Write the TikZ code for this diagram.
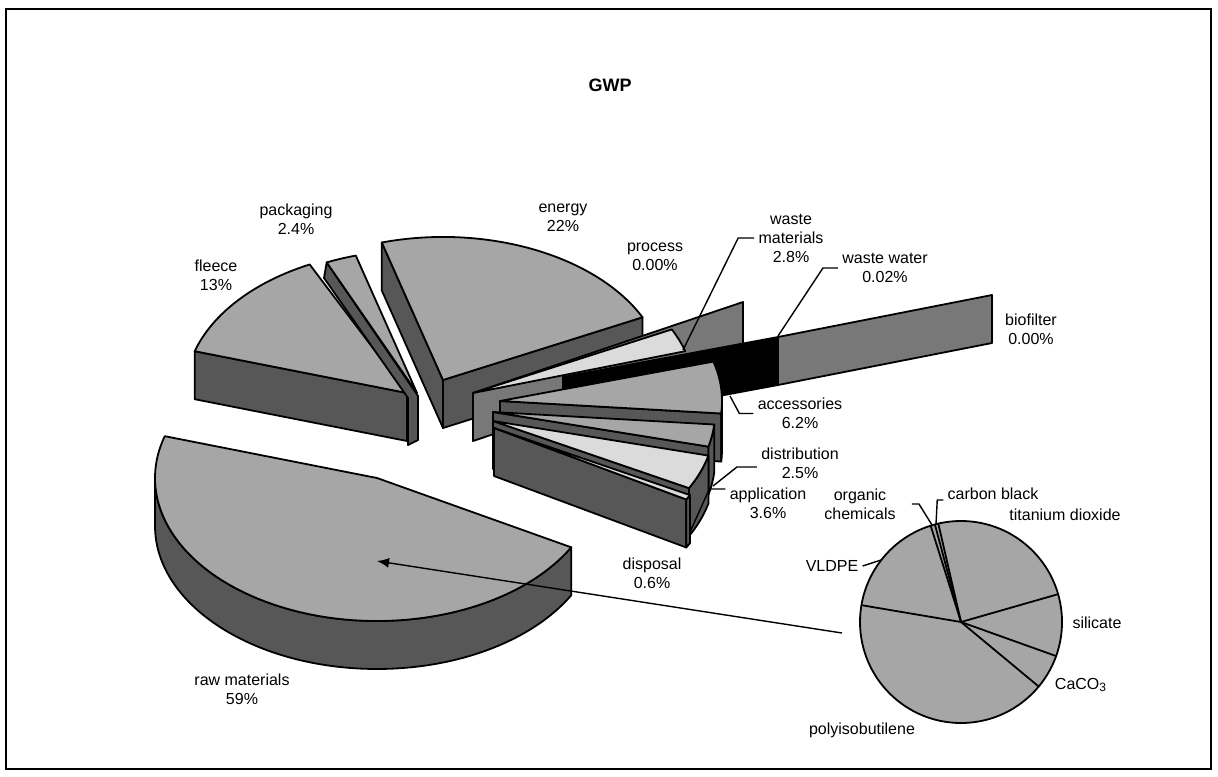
\documentclass[tikz,border=0pt]{standalone}
\usepackage{fontspec}
\setmainfont{Liberation Sans}
\usetikzlibrary{arrows.meta}
\definecolor{topgray}{gray}{0.65}
\definecolor{sidegray}{gray}{0.34}
\definecolor{palegray}{gray}{0.86}
\definecolor{planegray}{gray}{0.47}
\tikzset{
  pie/.style={x radius=222,y radius=143},
  topface/.style={fill=topgray,draw=black,line width=0.9pt,line join=round},
  sideface/.style={fill=sidegray,draw=black,line width=0.9pt,line join=round},
  paleface/.style={fill=palegray,draw=black,line width=0.9pt,line join=round},
  planeface/.style={fill=planegray,draw=black,line width=0.9pt,line join=round},
  lbl/.style={align=center,inner sep=2pt,font=\fontsize{8}{9.5}\selectfont},
  leader/.style={draw=black,line width=0.7pt},
}
\begin{document}
\begin{tikzpicture}[x=0.5pt,y=-0.5pt]
      \useasboundingbox (0,0) rectangle (1218,776);
      \draw[line width=1pt] (6,9) rectangle (1211,769);
      \node[lbl,font=\fontsize{9}{11}\selectfont\bfseries] (title) at (610,85) {GWP};
      % back slices
      \filldraw[sideface] (407,393) -- (194.7,351.2) -- (194.7,399.2) -- (407,441) -- cycle;
      \filldraw[topface,pie] (407,393) -- (194.7,351.2) arc[start angle=197,end angle=244] -- cycle;
      \filldraw[sideface] (326.7,262.4) -- (418,396) -- (418,440) -- (408,445) -- (408,398) -- (324,278) -- cycle;
      \filldraw[topface,pie] (417,393) -- (326.7,262.4) arc[start angle=246,end angle=254] -- cycle;
      \filldraw[sideface] (443,380) -- (381.8,242.5) -- (381.8,290.5) -- (443,428) -- cycle;
      \filldraw[sideface] (443,380) -- (642.5,317.3) -- (642.5,365.3) -- (443,428) -- cycle;
      \filldraw[topface,pie] (443,380) -- (381.8,242.5) arc[start angle=254,end angle=334] -- cycle;
      % planes
      \filldraw[planeface] (473,393) -- (743,302) -- (743,350) -- (473,441) -- cycle;
      \filldraw[paleface,pie] (473,393) -- (671.8,329.4) arc[start angle=-26.4,end angle=-17] -- cycle;
      \filldraw[fill=black,draw=black,line width=0.9pt] (563,377) -- (778,337) -- (778,385) -- (563,425) -- cycle;
      \filldraw[planeface] (778,337) -- (992,295) -- (992,343) -- (778,385) -- cycle;
      % right cluster
      \filldraw[sideface] (500,401) -- (721.2,413.5) -- (721.2,461.5) -- (500,449) -- cycle;
      \filldraw[sideface,pie] (722,401) arc[start angle=0,end angle=5] -- ++(0,48) arc[start angle=5,end angle=0] -- cycle;
      \filldraw[topface,pie] (500,401) -- (713.4,361.6) arc[start angle=-16,end angle=5] -- cycle;
      \filldraw[sideface] (493,412) -- (708.4,446.6) -- (708.4,494.6) -- (493,460) -- cycle;
      \filldraw[sideface,pie] (714.2,424.5) arc[start angle=5,end angle=14] -- ++(0,48) arc[start angle=14,end angle=5] -- cycle;
      \filldraw[topface,pie] (493,412) -- (714.2,424.5) arc[start angle=5,end angle=14] -- cycle;
      \filldraw[sideface] (493,421) -- (689,488.1) -- (689,536.1) -- (493,469) -- cycle;
      \filldraw[sideface,pie] (708.4,455.6) arc[start angle=14,end angle=28] -- ++(0,48) arc[start angle=28,end angle=14] -- cycle;
      \filldraw[paleface,pie] (493,421) -- (708.4,455.6) arc[start angle=14,end angle=28] -- cycle;
      \filldraw[sideface] (494,428) -- (686.3,499.5) -- (686.3,547.5) -- (494,476) -- cycle;
      \filldraw[sideface,pie] (690,495.1) arc[start angle=28,end angle=30] -- ++(0,48) arc[start angle=30,end angle=28] -- cycle;
      \filldraw[paleface,pie] (494,428) -- (690,495.1) arc[start angle=28,end angle=30] -- cycle;
      % raw materials
      \filldraw[sideface,pie] (571.2,547.3) arc[start angle=29,end angle=180] -- ++(0,48) arc[start angle=180,end angle=29] -- cycle;
      \filldraw[topface,pie] (377,478) -- (571.2,547.3) arc[start angle=29,end angle=197] -- cycle;
      % small pie
      \coordinate (sp) at (961,622);
      \filldraw[fill=topgray,draw=black,line width=0.9pt] (sp) circle[radius=101];
      \foreach \a in {-16,19.7,39.7,189.6,252.5,255,257}
        \draw[line width=0.9pt] (sp) -- ++(\a:101);
      \coordinate (tail) at (842,633);
      \coordinate (tip) at (377,561);
      \draw[line width=0.7pt,-{Latex[length=6pt,width=5pt]}] (tail) -- (tip);
      % labels
      \node[lbl] (pack) at (296,219.5) {packaging\\2.4\%};
      \node[lbl] (fleece) at (216,275.5) {fleece\\13\%};
      \node[lbl] (energy) at (563,217.5) {energy\\22\%};
      \node[lbl] (process) at (655,257) {process\\0.00\%};
      \node[lbl] (wmat) at (791,238) {waste\\materials\\2.8\%};
      \node[lbl] (wwater) at (885,268) {waste water\\0.02\%};
      \node[lbl] (biof) at (1031,329.5) {biofilter\\0.00\%};
      \node[lbl] (acc) at (800,413.5) {accessories\\6.2\%};
      \node[lbl] (dist) at (800,463) {distribution\\2.5\%};
      \node[lbl] (appl) at (768,503) {application\\3.6\%};
      \node[lbl] (disp) at (652,573.5) {disposal\\0.6\%};
      \node[lbl] (raw) at (242,689) {raw materials\\59\%};
      \node[lbl] (org) at (860,504) {organic\\chemicals};
      \node[lbl] (cblack) at (993,494) {carbon black};
      \node[lbl] (tio) at (1065,515) {titanium dioxide};
      \node[lbl] (vldpe) at (832,566) {VLDPE};
      \node[lbl] (silic) at (1097,623) {silicate};
      \node[lbl] (caco) at (1081,685) {CaCO\textsubscript{3}};
      \node[lbl] (pib) at (862,730) {polyisobutilene};
      % leaders
      \coordinate (wmtip) at (683,350);
      \coordinate (wwtip) at (778,336);
      \coordinate (actip) at (730,396);
      \coordinate (dtip) at (713,486);
      \coordinate (aptip) at (690,532);
      \coordinate (vtip) at (881,560);
      \coordinate (otip) at (932,525);
      \coordinate (ctip) at (936,524);
      \draw[leader] (wmat.west) -- ++(-16,0) -- (wmtip);
      \draw[leader] (wwater.west) -- ++(-15,0) -- (wwtip);
      \draw[leader] (acc.west) -- ++(-14,0) -- (actip);
      \draw[leader] ([yshift=-2pt]dist.west) -- ++(-20,0) -- (dtip);
      \draw[leader] ([yshift=7pt]appl.west) -- ++(-16,0) -- (aptip);
      \draw[leader] (vldpe.east) -- (vtip);
      \draw[leader] ([xshift=6pt]org.east) -- ++(7,0) -- (otip);
      \draw[leader] ([yshift=-3pt]cblack.west) -- ++(-6,0) -- (ctip);
    \end{tikzpicture}
\end{document}
